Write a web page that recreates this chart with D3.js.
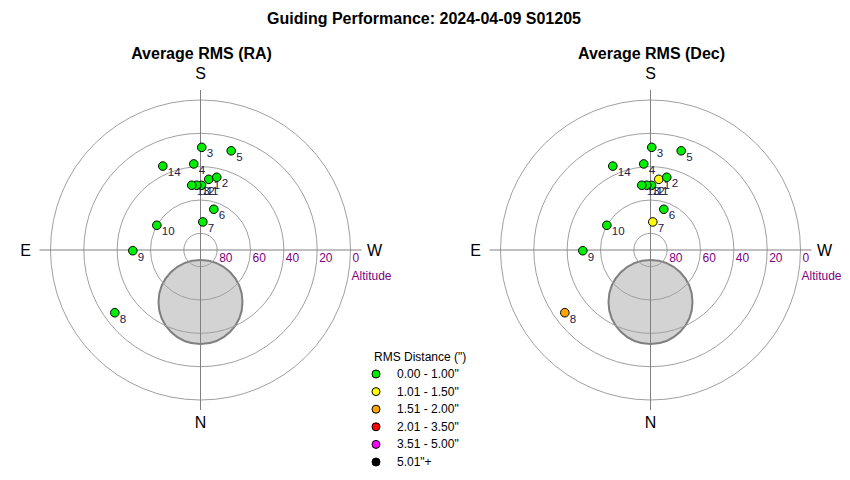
<!DOCTYPE html>
<head>
  <meta charset="utf-8">
  <script src="https://d3js.org/d3.v7.min.js"></script>
  <style>
    body { margin:0; background:#fff; }
    text { font-family: "Liberation Sans", Arial, sans-serif; }
  </style>
</head>

<body>
  <script>
    // Frame numbers, position on the sky, and RMS per frame (arcsec)
    var frameIds  = [1, 2, 3, 4, 5, 6, 7, 8, 9, 10, 11, 12, 13, 14];
    var altitudes = [47.3, 45.3, 28.4, 38.2, 27.7, 64.3, 73.1, 26.3, 49.4, 59.9, 51.2, 51.1, 50.8, 34.8];
    var azimuths  = [186.7, 192.6, 180.7, 175.5, 197.2, 198.1, 184.7, 53.8, 89.4, 119.5, 180.9, 176.7, 172.3, 155.8];
    var rmsRA     = [0.62, 0.58, 0.55, 0.60, 0.52, 0.57, 0.71, 0.86, 0.66, 0.59, 0.54, 0.56, 0.61, 0.53];
    var rmsDec    = [1.12, 0.78, 0.64, 0.70, 0.61, 0.69, 1.08, 1.62, 0.83, 0.72, 0.66, 0.63, 0.74, 0.68];

    // Pole marker (grey disc)
    var poleAlt = 58.8, poleAz = 0, poleSize = 25.2;

    var altTicks = [80, 60, 40, 20, 0];
    var compass = ["S", "W", "N", "E"];

    var binLabels = ['0.00 - 1.00"', '1.01 - 1.50"', '1.51 - 2.00"', '2.01 - 3.50"', '3.51 - 5.00"', '5.01"+'];
    var binEdges  = [1.005, 1.505, 2.005, 3.505, 5.005];
    var binColors = ["#00ee00", "#ffff00", "#ffa500", "#ff0000", "#ff00ff", "#000000"];

    var width = 850, height = 480;
    var R = 150, cy = 250;

    var color = d3.scaleThreshold().domain(binEdges).range(binColors);
    var r = d3.scaleLinear().domain([90, 0]).range([0, R]);

    var svg = d3.select("body").append("svg")
        .attr("width", width)
        .attr("height", height);

    svg.append("text")
      .attr("x", 424)
      .attr("y", 24)
      .attr("text-anchor", "middle")
      .style("font-size", "16px")
      .style("font-weight", "bold")
      .text("Guiding Performance: 2024-04-09 S01205");

    function xy(alt, az) {
      var rad = az * Math.PI / 180;
      return [-r(alt) * Math.sin(rad), r(alt) * Math.cos(rad)];
    }

    function polar(cx, title, rms) {
      var g = svg.append("g")
          .attr("transform", "translate(" + cx + "," + cy + ")");

      g.append("text")
        .attr("x", 1)
        .attr("y", -191)
        .attr("text-anchor", "middle")
        .style("font-size", "16px")
        .style("font-weight", "bold")
        .text(title);

      // pole disc under the grid
      var p = xy(poleAlt, poleAz);
      g.append("circle")
        .attr("cx", p[0])
        .attr("cy", p[1])
        .attr("r", r(90 - poleSize))
        .attr("fill", "#d3d3d3")
        .attr("stroke", "#808080")
        .attr("stroke-width", 2);

      g.selectAll(".ring").data(altTicks).enter()
        .append("circle")
        .attr("class", "ring")
        .attr("r", function(d) { return r(d); })
        .attr("fill", "none")
        .attr("stroke", "#a0a0a0")
        .attr("stroke-width", 1);

      g.append("line")
        .attr("x1", -R - 11).attr("x2", R + 11)
        .attr("y1", 0).attr("y2", 0)
        .attr("stroke", "#808080");
      g.append("line")
        .attr("x1", 0).attr("x2", 0)
        .attr("y1", -R - 10).attr("y2", R + 10)
        .attr("stroke", "#808080");

      g.selectAll(".alt").data(altTicks).enter()
        .append("text")
        .attr("class", "alt")
        .attr("x", function(d) { return r(d) + 2; })
        .attr("y", 12)
        .attr("fill", "#800080")
        .style("font-size", "12px")
        .text(function(d) { return d; });

      g.append("text")
        .attr("x", R + 1)
        .attr("y", 30)
        .attr("fill", "#800080")
        .style("font-size", "12px")
        .text("Altitude");

      var cpos = {S: [0, -171], W: [174, 6], N: [0, 178], E: [-175, 6]};
      g.selectAll(".dir").data(compass).enter()
        .append("text")
        .attr("class", "dir")
        .attr("x", function(d) { return cpos[d][0]; })
        .attr("y", function(d) { return cpos[d][1]; })
        .attr("text-anchor", "middle")
        .style("font-size", "16px")
        .text(function(d) { return d; });

      var pts = frameIds.map(function(id, i) {
        var q = xy(altitudes[i], azimuths[i]);
        return {id: id, x: q[0], y: q[1], rms: rms[i]};
      });

      g.selectAll(".pt").data(pts).enter()
        .append("circle")
        .attr("class", "pt")
        .attr("cx", function(d) { return d.x; })
        .attr("cy", function(d) { return d.y; })
        .attr("r", 4.3)
        .attr("fill", function(d) { return color(d.rms); })
        .attr("stroke", "#000")
        .attr("stroke-width", 1);

      g.selectAll(".lbl").data(pts).enter()
        .append("text")
        .attr("class", "lbl")
        .attr("x", function(d) { return d.x + 5; })
        .attr("y", function(d) { return d.y + 10; })
        .attr("fill", "#202048")
        .style("font-size", "11.5px")
        .text(function(d) { return d.id; });
    }

    polar(200.5, "Average RMS (RA)", rmsRA);
    polar(650.5, "Average RMS (Dec)", rmsDec);

    // legend
    var lg = svg.append("g").attr("transform", "translate(374,0)");
    lg.append("text")
      .attr("x", 0)
      .attr("y", 361)
      .style("font-size", "12px")
      .text('RMS Distance (")');

    var ly = d3.scalePoint().domain(binLabels).range([374, 462]);
    lg.selectAll(".lc").data(binLabels).enter()
      .append("circle")
      .attr("class", "lc")
      .attr("cx", 2)
      .attr("cy", function(d) { return ly(d); })
      .attr("r", 4)
      .attr("fill", function(d, i) { return binColors[i]; })
      .attr("stroke", "#000");
    lg.selectAll(".lt").data(binLabels).enter()
      .append("text")
      .attr("class", "lt")
      .attr("x", 23)
      .attr("y", function(d) { return ly(d) + 4; })
      .style("font-size", "12px")
      .text(function(d) { return d; });
  </script>
</body>
